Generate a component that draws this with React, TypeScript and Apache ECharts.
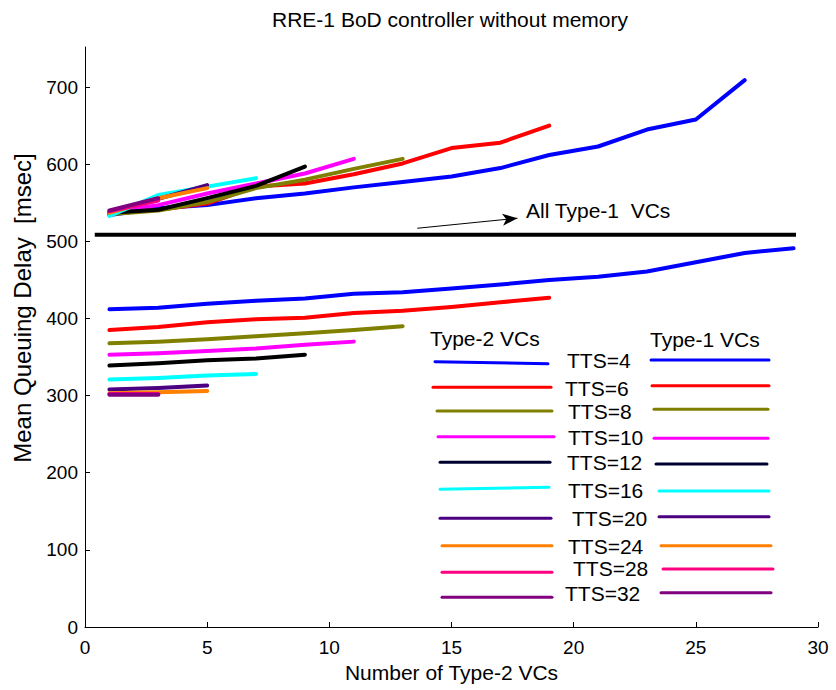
import React, { useEffect, useRef } from "react";
import * as echarts from "echarts";

// ---------- data ----------
const xPoints = [1, 3, 5, 7, 9, 11, 13, 15, 17, 19, 21, 23, 25, 27, 29];
const ttsLabels = ["TTS=4", "TTS=6", "TTS=8", "TTS=10", "TTS=12", "TTS=16", "TTS=20", "TTS=24", "TTS=28", "TTS=32"];
const seriesColors = ["#0000ff", "#ff0000", "#808000", "#ff00ff", "#000000", "#00ffff", "#4b0082", "#ff8000", "#ff0080", "#800080"];
const legendColors = ["#0000ff", "#ff0000", "#808000", "#ff00ff", "#00002e", "#00ffff", "#4b0082", "#ff8000", "#ff0080", "#800080"];

// upper group of curves
const upperTTS4 = [534, 543, 547, 556, 562, 570, 577, 584, 595, 612, 623, 645, 658, 709];
const upperTTS6 = [536, 541, 549, 571, 575, 587, 601, 621, 628, 650];
const upperTTS8 = [535, 540, 551, 569, 580, 594, 607];
const upperTTS10 = [538, 547, 562, 575, 588, 607];
const upperTTS12 = [537, 541, 556, 572, 597];
const upperTTS16 = [533, 560, 571, 582];
const upperTTS20 = [538, 555, 573];
const upperTTS24 = [537, 556, 569];
const upperTTS28 = [539, 553];
const upperTTS32 = [540, 556];

// lower group of curves
const lowerTTS4 = [412, 414, 419, 423, 426, 432, 434, 439, 444, 450, 454, 461, 473, 485, 491];
const lowerTTS6 = [385, 389, 395, 399, 401, 407, 410, 415, 421, 427];
const lowerTTS8 = [368, 370, 373, 377, 381, 385, 390];
const lowerTTS10 = [353, 355, 358, 361, 366, 370];
const lowerTTS12 = [339, 342, 346, 348, 353];
const lowerTTS16 = [321, 323, 326, 328];
const lowerTTS20 = [308, 310, 313];
const lowerTTS24 = [303, 304.5, 306];
const lowerTTS28 = [302, 302];
const lowerTTS32 = [301, 301];

const allType1X = [0.4, 29.1];
const allType1Delay = 508.5;
const arrowFrom = [13.6, 517];
const arrowTo = [17.7, 530];

const xTicks = [0, 5, 10, 15, 20, 25, 30];
const yTicks = [0, 100, 200, 300, 400, 500, 600, 700];

const upperGroup = [upperTTS4, upperTTS6, upperTTS8, upperTTS10, upperTTS12, upperTTS16, upperTTS20, upperTTS24, upperTTS28, upperTTS32];
const lowerGroup = [lowerTTS4, lowerTTS6, lowerTTS8, lowerTTS10, lowerTTS12, lowerTTS16, lowerTTS20, lowerTTS24, lowerTTS28, lowerTTS32];

// ---------- layout (legend drawn as graphic) ----------
const FONT = "'Liberation Sans', Arial, Helvetica, sans-serif";
const legLeftX1 = [435, 433, 437, 438, 440, 440, 440, 442, 442, 442];
const legLeftX2 = [548, 551, 552, 554, 550, 549, 551, 552, 552, 552];
const legLeftY1 = [361.7, 387.3, 411, 436.7, 462.3, 489.3, 518.3, 545.7, 572.3, 597.3];
const legLeftY2 = [363.7, 387.3, 411, 436.7, 462.3, 487.3, 518.3, 545.7, 572.3, 597.3];
const legRightX1 = [651, 652, 654, 654, 656, 659, 659, 661, 663, 661];
const legRightX2 = [769, 769, 768, 768, 767, 769, 769, 771, 773, 771];
const legRightY = [360, 385.7, 409.3, 438.3, 464, 491, 516.7, 545.7, 569, 592.7];
const legLabelX = [567, 565, 568, 568, 567, 568, 572, 568, 573, 565];
const legLabelY = [360, 388.3, 411.7, 437.3, 462.7, 490, 518.3, 546, 568.3, 593.3];

function toPairs(vals: number[]) {
  return vals.map((v, i) => [xPoints[i], v]);
}

export default function App() {
  const ref = useRef<HTMLDivElement>(null);

  useEffect(() => {
    if (!ref.current) return;
    const chart = echarts.init(ref.current, null, { renderer: "svg" });

    const series: any[] = [];
    lowerGroup.forEach((vals, i) => {
      series.push({
        type: "line",
        name: "lower " + ttsLabels[i],
        data: toPairs(vals),
        showSymbol: false,
        symbol: "none",
        lineStyle: { color: seriesColors[i], width: 4, cap: "round", join: "round" },
        z: 2 + i,
      });
    });
    upperGroup.forEach((vals, i) => {
      series.push({
        type: "line",
        name: "upper " + ttsLabels[i],
        data: toPairs(vals),
        showSymbol: false,
        symbol: "none",
        lineStyle: { color: seriesColors[i], width: 4, cap: "round", join: "round" },
        z: 2 + i,
      });
    });
    series.push({
      type: "line",
      name: "All Type-1 VCs",
      data: allType1X.map((x) => [x, allType1Delay]),
      showSymbol: false,
      symbol: "none",
      lineStyle: { color: "#000000", width: 4 },
      z: 20,
      markLine: {
        silent: true,
        animation: false,
        symbol: ["none", "arrow"],
        symbolSize: [9, 15],
        lineStyle: { color: "#000000", width: 1, type: "solid" },
        label: { show: false },
        data: [[{ coord: arrowFrom }, { coord: arrowTo }]],
      },
    });

    const graphics: any[] = [
      {
        type: "text",
        x: 450,
        y: 19,
        style: { text: "RRE-1 BoD controller without memory", font: `21px ${FONT}`, fill: "#000", textAlign: "center", textVerticalAlign: "middle" },
      },
      {
        type: "text",
        x: 22,
        y: 308,
        rotation: Math.PI / 2,
        style: { text: "Mean Queuing Delay  [msec]", font: `24px ${FONT}`, fill: "#000", textAlign: "center", textVerticalAlign: "middle", whiteSpace: "pre" },
      },
      {
        type: "text",
        x: 526,
        y: 210,
        style: { text: "All Type-1  VCs", font: `21px ${FONT}`, fill: "#000", textAlign: "left", textVerticalAlign: "middle" },
      },
      {
        type: "text",
        x: 430,
        y: 338,
        style: { text: "Type-2 VCs", font: `21px ${FONT}`, fill: "#000", textAlign: "left", textVerticalAlign: "middle" },
      },
      {
        type: "text",
        x: 650,
        y: 339,
        style: { text: "Type-1 VCs", font: `21px ${FONT}`, fill: "#000", textAlign: "left", textVerticalAlign: "middle" },
      },
    ];
    ttsLabels.forEach((lab, i) => {
      graphics.push({
        type: "line",
        shape: { x1: legLeftX1[i], y1: legLeftY1[i], x2: legLeftX2[i], y2: legLeftY2[i] },
        style: { stroke: legendColors[i], lineWidth: 3, lineCap: "round" },
      });
      graphics.push({
        type: "line",
        shape: { x1: legRightX1[i], y1: legRightY[i], x2: legRightX2[i], y2: legRightY[i] },
        style: { stroke: legendColors[i], lineWidth: 3, lineCap: "round" },
      });
      graphics.push({
        type: "text",
        x: legLabelX[i],
        y: legLabelY[i],
        style: { text: lab, font: `21px ${FONT}`, fill: "#000", textAlign: "left", textVerticalAlign: "middle" },
      });
    });

    chart.setOption({
      animation: false,
      backgroundColor: "#ffffff",
      grid: { left: 85, right: 18, top: 47, bottom: 63, outerBoundsMode: "none", containLabel: false },
      xAxis: {
        type: "value",
        min: 0,
        max: 30,
        interval: 5,
        name: "Number of Type-2 VCs",
        nameLocation: "middle",
        nameGap: 35,
        nameTextStyle: { fontSize: 21, fontFamily: FONT, color: "#000" },
        axisLine: { show: true, onZero: false, lineStyle: { color: "#000", width: 1 } },
        axisTick: { show: true, inside: true, length: 5, lineStyle: { color: "#000" }, customValues: xTicks },
        axisLabel: { fontSize: 19, fontFamily: FONT, color: "#000", margin: 11, customValues: xTicks },
        splitLine: { show: false },
      },
      yAxis: {
        type: "value",
        min: 0,
        max: 752,
        interval: 100,
        axisLine: { show: true, onZero: false, lineStyle: { color: "#000", width: 1 } },
        axisTick: { show: true, inside: true, length: 5, lineStyle: { color: "#000" }, customValues: yTicks },
        axisLabel: { fontSize: 19, fontFamily: FONT, color: "#000", margin: 7, customValues: yTicks },
        splitLine: { show: false },
      },
      graphic: graphics,
      series,
    });

    return () => chart.dispose();
  }, []);

  return <div ref={ref} style={{ position: "fixed", left: 0, top: 0, width: 836, height: 690, background: "#fff" }} />;
}
